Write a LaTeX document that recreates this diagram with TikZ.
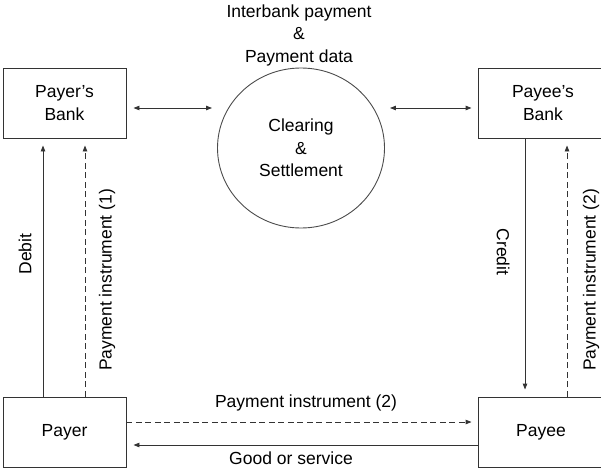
\documentclass[tikz,border=0pt]{standalone}
\usepackage{fontspec}
\setmainfont{Liberation Sans}
\usetikzlibrary{arrows.meta,shapes.geometric}
\begin{document}
\begin{tikzpicture}[x=1pt,y=-1pt,
  every node/.style={font=\fontsize{17.5}{22.5}\selectfont, inner sep=0pt},
  line/.style={draw=black!80, line width=0.9pt},
  box/.style={line, rectangle, minimum height=70pt, align=center},
  tipend/.style={-{Triangle[length=6pt,width=4.5pt]}},
  dtipend/.style={{Triangle[length=6pt,width=4.5pt]}-{Triangle[length=6pt,width=4.5pt]}},
  dashline/.style={dash pattern=on 6pt off 3.5pt}
]
\useasboundingbox (0,0) rectangle (601,468);
% boxes
\node[box, minimum width=123pt] (pb) at (64.5,103) {Payer's\\Bank};
\node[box, minimum width=130pt] (peb) at (543,103) {Payee's\\Bank};
\node[box, minimum width=123pt] (payer) at (64.5,432) {Payer};
\node[box, minimum width=126pt] (payee) at (541,432) {Payee};
\node[ellipse, draw=black!70, line width=0.9pt, minimum width=167pt, minimum height=160pt, align=center] (circ) at (301,148) {Clearing\\\&\\Settlement};
\node[align=center] (title) at (299,35) {Interbank payment\\\&\\Payment data};
% helper coordinates
\coordinate (ya) at (0,108);
\coordinate (xd) at (43,0);
\coordinate (xp) at (85,0);
\coordinate (xc) at (525,0);
\coordinate (xq) at (567,0);
\coordinate (yh) at (0,422);
\coordinate (yg) at (0,445);
% bank <-> clearing
\draw[line, dtipend, shorten <=7pt, shorten >=5pt] (pb.east |- ya) -- (circ.west |- ya);
\draw[line, dtipend, shorten <=5pt, shorten >=6pt] (circ.east |- ya) -- (peb.west |- ya);
% verticals left
\draw[line, tipend, shorten >=7pt] (payer.north -| xd) -- (pb.south -| xd);
\draw[line, dashline, tipend, shorten >=7pt] (payer.north -| xp) -- (pb.south -| xp);
% verticals right
\draw[line, tipend, shorten >=7pt] (peb.south -| xc) -- (payee.north -| xc);
\draw[line, dashline, tipend, shorten >=7pt] (payee.north -| xq) -- (peb.south -| xq);
% horizontals
\draw[line, dashline, tipend, shorten >=6pt] (payer.east |- yh) -- (payee.west |- yh);
\draw[line, tipend, shorten >=7pt] (payee.west |- yg) -- (payer.east |- yg);
% labels
\node[rotate=90] (ldebit) at (25,254) {Debit};
\node[rotate=90] (lpi1) at (107,280) {Payment instrument (1)};
\node[rotate=-90] (lcredit) at (503,252) {Credit};
\node[rotate=90] (lpi2) at (591,280) {Payment instrument (2)};
\node (lpih) at (306,403) {Payment instrument (2)};
\node (lgood) at (291,458) {Good or service};
\end{tikzpicture}
\end{document}
